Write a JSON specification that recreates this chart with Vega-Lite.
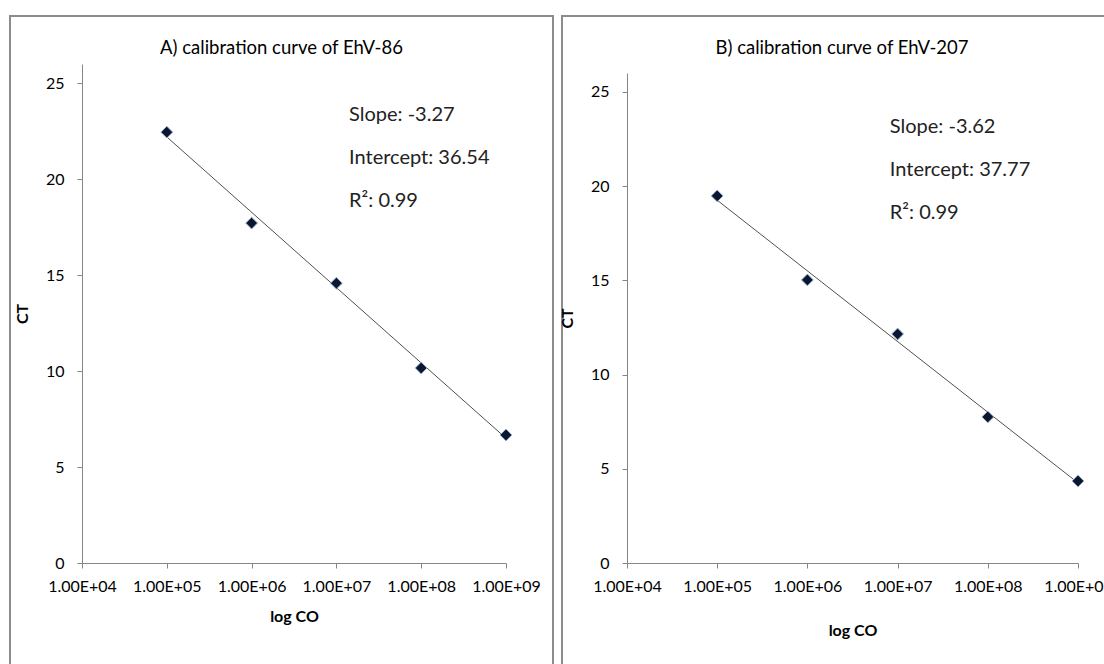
{
  "$schema": "https://vega.github.io/schema/vega-lite/v6.json",
  "padding": {"left": 9, "top": 15, "right": 0, "bottom": 0},
  "spacing": 4,
  "background": "white",
  "config": {
    "font": "Lato",
    "view": {"stroke": "#8c8c8c", "strokeWidth": 2, "fill": "white"},
    "axis": {
      "grid": false,
      "domainColor": "#868686",
      "tickColor": "#868686",
      "tickSize": 5,
      "labelFont": "Lato",
      "labelFontSize": 16,
      "labelColor": "#000000",
      "titleFont": "Lato",
      "titleFontSize": 16,
      "titleFontWeight": "bold",
      "titleColor": "#000000",
      "labelOverlap": false,
      "labelFlush": false
    },
    "title": {"font": "Lato", "fontSize": 18.5, "fontWeight": "normal", "color": "#000000", "anchor": "middle"}
  },
  "datasets": {
    "pts": [
      {"panel": "A", "copies": 100000, "ct": 22.45},
      {"panel": "A", "copies": 1000000, "ct": 17.71},
      {"panel": "A", "copies": 10000000, "ct": 14.58},
      {"panel": "A", "copies": 100000000, "ct": 10.16},
      {"panel": "A", "copies": 1000000000, "ct": 6.67},
      {"panel": "B", "copies": 100000, "ct": 19.48},
      {"panel": "B", "copies": 1000000, "ct": 15.02},
      {"panel": "B", "copies": 10000000, "ct": 12.15},
      {"panel": "B", "copies": 100000000, "ct": 7.75},
      {"panel": "B", "copies": 1000000000, "ct": 4.35}
    ],
    "fit": [
      {"panel": "A", "copies": 100000, "ct": 22.2},
      {"panel": "A", "copies": 1000000000, "ct": 6.5},
      {"panel": "B", "copies": 100000, "ct": 19.25},
      {"panel": "B", "copies": 1000000000, "ct": 4.25}
    ],
    "notes": [
      {"panel": "A", "label": "Slope: -3.27\nIntercept: 36.54\nR²: 0.99"},
      {"panel": "B", "label": "Slope: -3.62\nIntercept: 37.77\nR²: 0.99"}
    ]
  },
  "hconcat": [
    {
      "width": 543,
      "height": 660,
      "title": {"text": "A) calibration curve of EhV-86", "offset": -41},
      "layer": [
        {
          "data": {"name": "fit"},
          "transform": [{"filter": "datum.panel === 'A'"}],
          "mark": {"type": "line", "color": "#505050", "strokeWidth": 1},
          "encoding": {
            "x": {"field": "copies", "type": "quantitative",
              "scale": {"type": "log", "domain": [10000, 1000000000], "range": [72, 496]},
              "axis": {"title": "log CO", "orient": "bottom", "offset": -113, "values": [10000, 100000, 1000000, 10000000, 100000000, 1000000000],
                "labelExpr": "replace(format(datum.value, '.2e'), 'e+', 'E+0')", "labelPadding": 10, "titlePadding": 14}},
            "y": {"field": "ct", "type": "quantitative",
              "scale": {"domain": [0, 25], "range": [547, 48]},
              "axis": {"title": "CT", "orient": "left", "offset": -72, "values": [0, 5, 10, 15, 20, 25], "labelPadding": 13, "titlePadding": 15}}
          }
        },
        {
          "data": {"name": "pts"},
          "transform": [{"filter": "datum.panel === 'A'"}],
          "mark": {"type": "point", "shape": "diamond", "filled": true, "size": 140, "fill": "#0b1730", "stroke": "#9db4d4", "strokeWidth": 1, "opacity": 1},
          "encoding": {
            "x": {"field": "copies", "type": "quantitative"},
            "y": {"field": "ct", "type": "quantitative"}
          }
        },
        {
          "data": {"name": "notes"},
          "transform": [{"filter": "datum.panel === 'A'"}],
          "mark": {"type": "text", "align": "left", "baseline": "middle", "lineBreak": "\n", "lineHeight": 43, "fontSize": 20, "color": "#222222"},
          "encoding": {
            "x": {"datum": 14100000, "type": "quantitative"},
            "y": {"datum": 23.33, "type": "quantitative"},
            "text": {"field": "label"}
          }
        }
      ]
    },
    {
      "width": 560,
      "height": 660,
      "title": {"text": "B) calibration curve of EhV-207", "offset": -41},
      "layer": [
        {
          "data": {"name": "fit"},
          "transform": [{"filter": "datum.panel === 'B'"}],
          "mark": {"type": "line", "color": "#505050", "strokeWidth": 1},
          "encoding": {
            "x": {"field": "copies", "type": "quantitative",
              "scale": {"type": "log", "domain": [10000, 1000000000], "range": [65, 516]},
              "axis": {"title": "log CO", "orient": "bottom", "offset": -113, "values": [10000, 100000, 1000000, 10000000, 100000000, 1000000000],
                "labelExpr": "replace(format(datum.value, '.2e'), 'e+', 'E+0')", "labelPadding": 10, "titlePadding": 28}},
            "y": {"field": "ct", "type": "quantitative",
              "scale": {"domain": [0, 25], "range": [547, 57]},
              "axis": {"title": "CT", "orient": "left", "offset": -65, "values": [0, 5, 10, 15, 20, 25], "labelPadding": 13, "titlePadding": 15}}
          }
        },
        {
          "data": {"name": "pts"},
          "transform": [{"filter": "datum.panel === 'B'"}],
          "mark": {"type": "point", "shape": "diamond", "filled": true, "size": 140, "fill": "#0b1730", "stroke": "#9db4d4", "strokeWidth": 1, "opacity": 1},
          "encoding": {
            "x": {"field": "copies", "type": "quantitative"},
            "y": {"field": "ct", "type": "quantitative"}
          }
        },
        {
          "data": {"name": "notes"},
          "transform": [{"filter": "datum.panel === 'B'"}],
          "mark": {"type": "text", "align": "left", "baseline": "middle", "lineBreak": "\n", "lineHeight": 43, "fontSize": 20, "color": "#222222"},
          "encoding": {
            "x": {"datum": 8200000, "type": "quantitative"},
            "y": {"datum": 23.14, "type": "quantitative"},
            "text": {"field": "label"}
          }
        }
      ]
    }
  ]
}
